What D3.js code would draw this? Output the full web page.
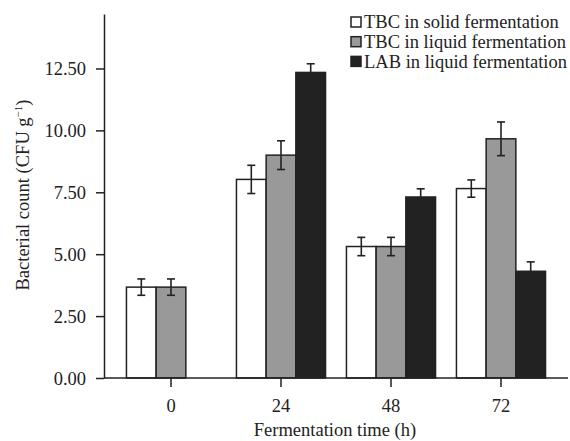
<!DOCTYPE html>
<html>
<head>
<meta charset="utf-8">
<script src="https://cdn.jsdelivr.net/npm/d3@7"></script>
<style>
  body { margin: 0; background: #fff; }
  text { font-family: "Liberation Serif", "Times New Roman", serif; fill: #222; }
</style>
</head>
<body>
<div id="chart"></div>
<script>
// data
var times = ["0", "24", "48", "72"];
var seriesNames = ["TBC in solid fermentation", "TBC in liquid fermentation", "LAB in liquid fermentation"];
var seriesColors = ["#ffffff", "#999999", "#222222"];
var tbcSolid = [3.67, 8.02, 5.31, 7.65];
var tbcSolidErr = [0.33, 0.57, 0.37, 0.35];
var tbcLiquid = [3.67, 9.0, 5.31, 9.66];
var tbcLiquidErr = [0.33, 0.58, 0.37, 0.68];
var labLiquid = [null, 12.34, 7.31, 4.31];
var labLiquidErr = [null, 0.35, 0.33, 0.38];
var yTicks = [0, 2.5, 5, 7.5, 10, 12.5];

var values = [tbcSolid, tbcLiquid, labLiquid];
var errors = [tbcSolidErr, tbcLiquidErr, labLiquidErr];

var width = 570, height = 441;
var fs = "18.5px";

var svg = d3.select("#chart").append("svg")
  .attr("width", width)
  .attr("height", height);

// scales
var x = d3.scaleBand()
  .domain(times)
  .range([116, 556])
  .paddingInner(0.19)
  .paddingOuter(0.095);

var xSub = d3.scaleBand()
  .domain(seriesNames)
  .range([0, x.bandwidth()]);

var y = d3.scaleLinear()
  .domain([0, 14.7])
  .range([378, 14]);

// flatten to one row per bar
var bars = [];
times.forEach(function(t, i) {
  seriesNames.forEach(function(s, j) {
    if (values[j][i] != null) {
      bars.push({ time: t, series: s, idx: j, value: values[j][i], err: errors[j][i] });
    }
  });
});

// bars
svg.selectAll(".bar")
  .data(bars)
  .enter().append("rect")
  .attr("class", "bar")
  .attr("x", function(d) { return x(d.time) + xSub(d.series); })
  .attr("y", function(d) { return y(d.value); })
  .attr("width", xSub.bandwidth())
  .attr("height", function(d) { return y(0) - y(d.value); })
  .attr("fill", function(d) { return seriesColors[d.idx]; })
  .attr("stroke", "#222")
  .attr("stroke-width", 1.5);

// error bars
var cap = 4;
var cx = function(d) { return x(d.time) + xSub(d.series) + xSub.bandwidth() / 2; };
var eb = svg.selectAll(".err")
  .data(bars)
  .enter().append("g")
  .attr("class", "err")
  .attr("stroke", "#222")
  .attr("stroke-width", 1.6);

eb.append("line")
  .attr("x1", cx)
  .attr("x2", cx)
  .attr("y1", function(d) { return y(d.value + d.err); })
  .attr("y2", function(d) { return y(d.value - d.err); });

eb.append("line")
  .attr("x1", function(d) { return cx(d) - cap; })
  .attr("x2", function(d) { return cx(d) + cap; })
  .attr("y1", function(d) { return y(d.value + d.err); })
  .attr("y2", function(d) { return y(d.value + d.err); });

eb.append("line")
  .attr("x1", function(d) { return cx(d) - cap; })
  .attr("x2", function(d) { return cx(d) + cap; })
  .attr("y1", function(d) { return y(d.value - d.err); })
  .attr("y2", function(d) { return y(d.value - d.err); });

// y axis
var yAxis = svg.append("g")
  .attr("transform", "translate(104,0)")
  .call(d3.axisLeft(y).tickValues(yTicks).tickFormat(d3.format(".2f")).tickSize(8).tickSizeOuter(0).tickPadding(10));
yAxis.attr("font-family", null);
yAxis.selectAll("text").style("font-size", fs).attr("fill", "#222").attr("dy", "0.35em");
yAxis.selectAll("line, path").attr("stroke", "#222").attr("stroke-width", 1.5);

// x axis
var xAxis = svg.append("g")
  .attr("transform", "translate(0," + y(0) + ")")
  .call(d3.axisBottom(x).tickSize(9).tickSizeOuter(0).tickPadding(12));
xAxis.attr("font-family", null);
xAxis.select(".domain").remove();
xAxis.append("line")
  .attr("x1", 104).attr("x2", 568)
  .attr("y1", 0).attr("y2", 0)
  .attr("stroke", "#222").attr("stroke-width", 1.5);
xAxis.selectAll("text").style("font-size", fs).attr("fill", "#222");
xAxis.selectAll(".tick line").attr("stroke", "#222").attr("stroke-width", 1.5);

// axis titles
svg.append("text")
  .attr("x", 335)
  .attr("y", 436)
  .attr("text-anchor", "middle")
  .style("font-size", fs)
  .text("Fermentation time (h)");

var yl = svg.append("text")
  .attr("transform", "translate(29,195) rotate(-90)")
  .attr("text-anchor", "middle")
  .style("font-size", fs);
yl.append("tspan").text("Bacterial count (CFU g");
yl.append("tspan").attr("dy", "-7").style("font-size", "11px").text("\u22121");
yl.append("tspan").attr("dy", "7").text(")");

// legend
var legend = svg.selectAll(".legend")
  .data(seriesNames)
  .enter().append("g")
  .attr("class", "legend")
  .attr("transform", function(d, i) { return "translate(351," + (17 + i * 19.7) + ")"; });

legend.append("rect")
  .attr("width", 10)
  .attr("height", 10)
  .attr("fill", function(d, i) { return seriesColors[i]; })
  .attr("stroke", "#222")
  .attr("stroke-width", 1.5);

legend.append("text")
  .attr("x", 13)
  .attr("y", 5)
  .attr("dy", "0.35em")
  .style("font-size", fs)
  .text(function(d) { return d; });
</script>
</body>
</html>
